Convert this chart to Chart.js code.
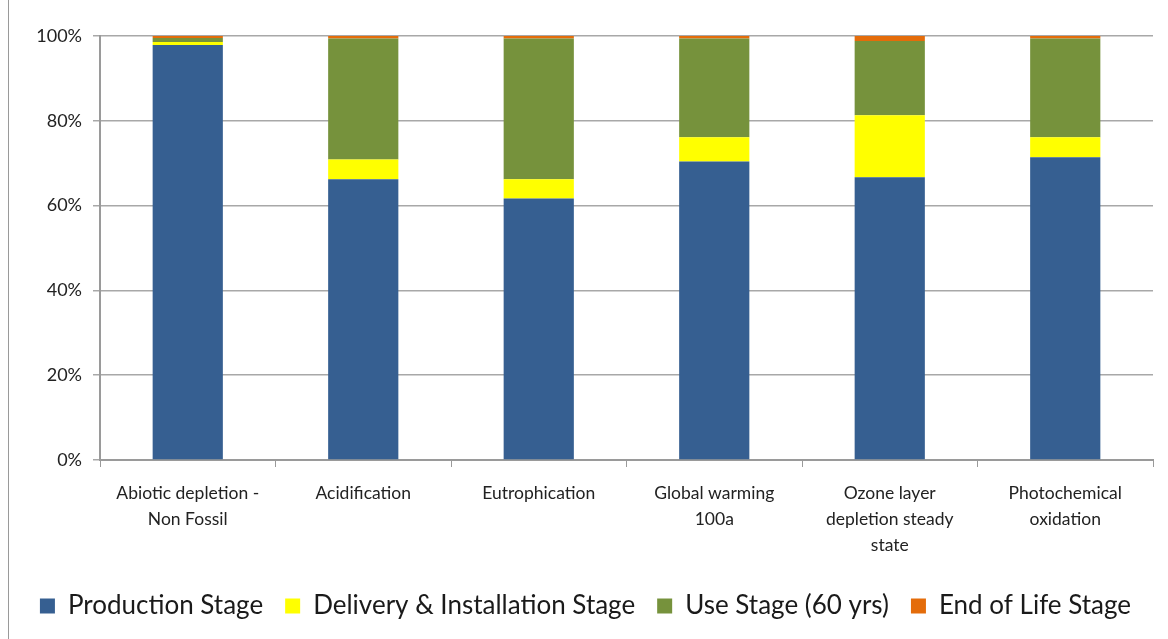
<!DOCTYPE html>
<html>
<head>
<meta charset="utf-8">
<script src="https://cdn.jsdelivr.net/npm/chart.js@4"></script>
<style>
  html, body { margin: 0; padding: 0; background: #fff; }
  #wrap { position: relative; width: 1168px; height: 639px; }
  #edge { position: absolute; left: 8px; top: 0; width: 1px; height: 639px; background: #9a9a9a; }
</style>
</head>
<body>
<div id="wrap">
  <div id="edge"></div>
  <canvas id="impact" width="1168" height="639"></canvas>
</div>
<script>
// impact categories (x axis)
var categories = [
  ['Abiotic depletion -', 'Non Fossil'],
  ['Acidification'],
  ['Eutrophication'],
  ['Global warming', '100a'],
  ['Ozone layer', 'depletion steady', 'state'],
  ['Photochemical', 'oxidation']
];

// share of each life cycle stage, in %
var production = [97.9, 66.2, 61.7, 70.4, 66.7, 71.4];
var delivery   = [0.7, 4.7, 4.5, 5.7, 14.6, 4.7];
var useStage   = [0.9, 28.5, 33.2, 23.3, 17.5, 23.3];
var endOfLife  = [0.5, 0.6, 0.6, 0.6, 1.2, 0.6];

var yTicks = [0, 20, 40, 60, 80, 100];

var fontName = 'Lato, "Open Sans", sans-serif';

var ctx = document.getElementById('impact').getContext('2d');
var myChart = new Chart(ctx, {
  type: 'bar',
  data: {
    labels: categories,
    datasets: [
      { label: 'Production Stage', data: production, backgroundColor: '#365f91' },
      { label: 'Delivery & Installation Stage', data: delivery, backgroundColor: '#ffff00' },
      { label: 'Use Stage (60 yrs)', data: useStage, backgroundColor: '#76923c' },
      { label: 'End of Life Stage', data: endOfLife, backgroundColor: '#e46c0a' }
    ]
  },
  options: {
    responsive: false,
    animation: false,
    layout: { padding: { left: 8, right: 15, top: 36, bottom: 10 } },
    datasets: {
      bar: { categoryPercentage: 1, barPercentage: 0.4, borderWidth: 0 }
    },
    plugins: {
      tooltip: { enabled: false },
      legend: {
        position: 'bottom',
        align: 'end',
        labels: {
          boxWidth: 15,
          boxHeight: 15,
          padding: 22,
          color: '#1a1a1a',
          font: { family: fontName, size: 26 }
        }
      }
    },
    scales: {
      x: {
        stacked: true,
        grid: { offset: true, drawOnChartArea: false, drawTicks: true, tickLength: 7, color: '#9a9a9a' },
        border: { display: true, color: '#9a9a9a', width: 2 },
        ticks: { color: '#222', maxRotation: 0, autoSkip: false, padding: 13, font: { family: fontName, size: 17.5, lineHeight: 1.5 } },
        afterFit: function (scale) { scale.height = 111; }
      },
      y: {
        stacked: true,
        min: 0,
        max: 100,
        afterBuildTicks: function (scale) {
          scale.ticks = yTicks.map(function (v) { return { value: v }; });
        },
        grid: { color: '#a8a8a8', lineWidth: 1.5, tickLength: 7 },
        border: { display: true, color: '#9a9a9a', width: 2 },
        ticks: {
          color: '#222',
          padding: 11,
          font: { family: fontName, size: 18 },
          callback: function (v) { return v + '%'; }
        },
        afterFit: function (scale) { scale.width = 92; }
      }
    }
  }
});
</script>
</body>
</html>
